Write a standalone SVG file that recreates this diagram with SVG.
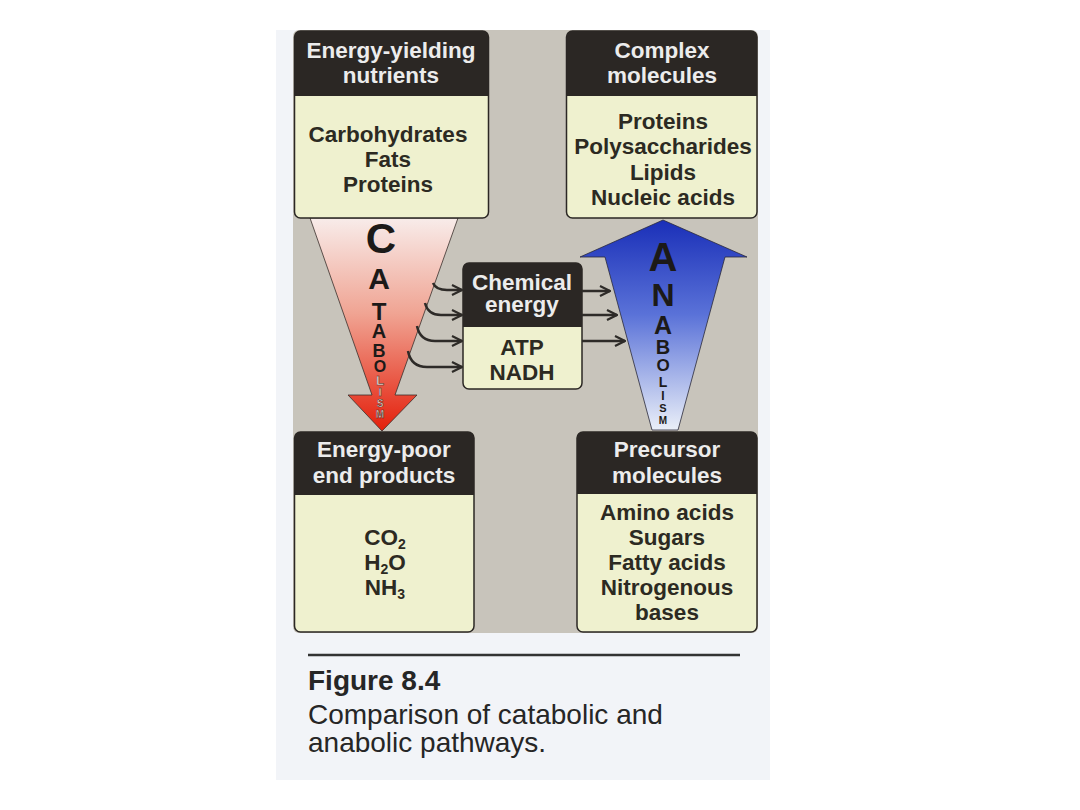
<svg xmlns="http://www.w3.org/2000/svg" width="1080" height="810" viewBox="0 0 1080 810">
<defs>
<linearGradient id="gCat" x1="0" y1="218" x2="0" y2="430" gradientUnits="userSpaceOnUse">
<stop offset="0" stop-color="#f8ecea"/>
<stop offset="0.45" stop-color="#f0a493"/>
<stop offset="1" stop-color="#e4200c"/>
</linearGradient>
<linearGradient id="gAna" x1="0" y1="220" x2="0" y2="430" gradientUnits="userSpaceOnUse">
<stop offset="0" stop-color="#1a2fb8"/>
<stop offset="0.45" stop-color="#5a72d8"/>
<stop offset="1" stop-color="#eaeff8"/>
</linearGradient>
<marker id="ah" viewBox="0 0 12 12" refX="11" refY="6" markerWidth="12" markerHeight="12" markerUnits="userSpaceOnUse" orient="auto">
<path d="M1,1 L11,6 L1,11" fill="none" stroke="#2e2b28" stroke-width="2.2" stroke-linejoin="miter"/>
</marker>
<style>
.body{fill:#eff1cf;stroke:#2b2724;stroke-width:1.5}
.head{fill:#2b2724}
.ht{font-family:"Liberation Sans",Arial,sans-serif;font-weight:bold;font-size:22.5px;fill:#ececec;text-anchor:middle}
.bt{font-family:"Liberation Sans",Arial,sans-serif;font-weight:bold;font-size:22.5px;fill:#2c2a22;text-anchor:middle}
.sub{font-size:14px}
.lt{font-family:"Liberation Sans",Arial,sans-serif;font-weight:bold;fill:#1c1a18;text-anchor:middle}
.ltw{font-family:"Liberation Sans",Arial,sans-serif;font-weight:bold;fill:#fbe0d8;stroke:#3a2a26;stroke-width:0.5;text-anchor:middle}
.conn path{fill:none;stroke:#2e2b28;stroke-width:2.5;marker-end:url(#ah)}
.cap{font-family:"Liberation Sans",Arial,sans-serif;fill:#262626}
</style>
</defs>
<rect width="1080" height="810" fill="#ffffff"/>
<rect x="276" y="30" width="494" height="750" fill="#f2f4f8"/>
<rect id="panel" x="293" y="30" width="465" height="603" rx="6" fill="#c8c4bb"/>

<g id="catabolism">
<polygon points="310,218 458,218 395,395 417,395 382,431 348,395 372,395" fill="url(#gCat)" stroke="#3a302c" stroke-width="0.8"/>
<text class="lt" x="381" y="253" font-size="42">C</text>
<text class="lt" x="379" y="289" font-size="30">A</text>
<text class="lt" x="379" y="320" font-size="24">T</text>
<text class="lt" x="379" y="338" font-size="20">A</text>
<text class="lt" x="379" y="357" font-size="18">B</text>
<text class="lt" x="380" y="372" font-size="16">O</text>
<text class="ltw" x="380" y="385" font-size="13">L</text>
<text class="ltw" x="380" y="396" font-size="11">I</text>
<text class="ltw" x="380" y="407" font-size="10">S</text>
<text class="ltw" x="380" y="418" font-size="10">M</text>
</g>

<g id="anabolism">
<polygon points="663,220 747,257 725,257 678,430 652,430 605,257 580,257" fill="url(#gAna)" stroke="#2a2a3a" stroke-width="0.8"/>
<text class="lt" x="663" y="271" font-size="40">A</text>
<text class="lt" x="663" y="306" font-size="32">N</text>
<text class="lt" x="663" y="334" font-size="25">A</text>
<text class="lt" x="663" y="354" font-size="20">B</text>
<text class="lt" x="663" y="371" font-size="17">O</text>
<text class="lt" x="663" y="387" font-size="14">L</text>
<text class="lt" x="663" y="400" font-size="12">I</text>
<text class="lt" x="663" y="412" font-size="11">S</text>
<text class="lt" x="663" y="424" font-size="10">M</text>
</g>

<g id="energy-yielding-nutrients">
<rect class="body" x="294.5" y="31" width="194" height="187" rx="6"/>
<path class="head" d="M294.5,37 a6,6 0 0 1 6,-6 h182 a6,6 0 0 1 6,6 v59 h-194 z"/>
<text class="ht" x="391" y="58">Energy-yielding</text>
<text class="ht" x="391" y="83">nutrients</text>
<text class="bt" x="388" y="142">Carbohydrates</text>
<text class="bt" x="388" y="167">Fats</text>
<text class="bt" x="388" y="192">Proteins</text>
</g>

<g id="complex-molecules">
<rect class="body" x="566.5" y="31" width="190.5" height="187" rx="6"/>
<path class="head" d="M566.5,37 a6,6 0 0 1 6,-6 h178.5 a6,6 0 0 1 6,6 v59 h-190.5 z"/>
<text class="ht" x="662" y="58">Complex</text>
<text class="ht" x="662" y="83">molecules</text>
<text class="bt" x="663" y="129">Proteins</text>
<text class="bt" x="663" y="154">Polysaccharides</text>
<text class="bt" x="663" y="180">Lipids</text>
<text class="bt" x="663" y="205">Nucleic acids</text>
</g>

<g id="chemical-energy">
<rect class="body" x="463" y="263" width="119" height="126" rx="6"/>
<path class="head" d="M463,269 a6,6 0 0 1 6,-6 h107 a6,6 0 0 1 6,6 v58 h-119 z"/>
<text class="ht" x="522" y="290">Chemical</text>
<text class="ht" x="522" y="312">energy</text>
<text class="bt" x="522" y="355">ATP</text>
<text class="bt" x="522" y="380">NADH</text>
</g>

<g id="energy-poor-end-products">
<rect class="body" x="294.5" y="432" width="179.5" height="200" rx="6"/>
<path class="head" d="M294.5,438 a6,6 0 0 1 6,-6 h167.5 a6,6 0 0 1 6,6 v57 h-179.5 z"/>
<text class="ht" x="384" y="457">Energy-poor</text>
<text class="ht" x="384" y="483">end products</text>
<text class="bt" x="385" y="545">CO<tspan class="sub" dy="4">2</tspan></text>
<text class="bt" x="385" y="570">H<tspan class="sub" dy="4">2</tspan><tspan dy="-4">O</tspan></text>
<text class="bt" x="385" y="595">NH<tspan class="sub" dy="4">3</tspan></text>
</g>

<g id="precursor-molecules">
<rect class="body" x="577" y="432" width="180" height="200" rx="6"/>
<path class="head" d="M577,438 a6,6 0 0 1 6,-6 h168 a6,6 0 0 1 6,6 v56 h-180 z"/>
<text class="ht" x="667" y="457">Precursor</text>
<text class="ht" x="667" y="483">molecules</text>
<text class="bt" x="667" y="520">Amino acids</text>
<text class="bt" x="667" y="545">Sugars</text>
<text class="bt" x="667" y="570">Fatty acids</text>
<text class="bt" x="667" y="595">Nitrogenous</text>
<text class="bt" x="667" y="620">bases</text>
</g>

<g id="connectors" class="conn">
<path d="M433,283 Q436,290 447,290 L462,290"/>
<path d="M425,303 Q428,315 441,315 L462,315"/>
<path d="M417,326 Q420,341 435,341 L462,341"/>
<path d="M408,351 Q411,367 427,367 L462,367"/>
<path d="M582,291 L610,291"/>
<path d="M582,315 L617,315"/>
<path d="M582,341 L625,341"/>
</g>

<g id="caption">
<line x1="308" y1="655" x2="740" y2="655" stroke="#333333" stroke-width="2.5"/>
<text class="cap" x="308" y="690" font-size="28" font-weight="bold">Figure 8.4</text>
<text class="cap" x="308" y="724" font-size="28">Comparison of catabolic and</text>
<text class="cap" x="308" y="752" font-size="28">anabolic pathways.</text>
</g>
</svg>
